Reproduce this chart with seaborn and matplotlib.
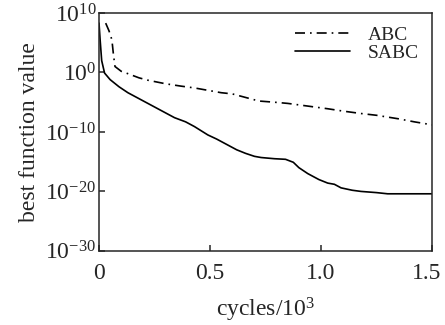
# Convergence curves of ABC vs SABC (log scale)
import seaborn as sns
import matplotlib.pyplot as plt
import matplotlib.transforms as mtransforms
import pandas as pd
import numpy as np

# cycles (x 10^3) and log10 of best function value
abc_cycles = [0.03, 0.045, 0.058, 0.065, 0.072, 0.10, 0.13, 0.18, 0.22, 0.30, 0.37,
              0.43, 0.49, 0.55, 0.60, 0.66, 0.72, 0.79, 0.85, 0.93, 1.03, 1.10,
              1.18, 1.25, 1.35, 1.42, 1.50]
abc_exp = [8.3, 7.0, 5.5, 3.0, 1.0, 0.2, -0.2, -0.9, -1.3, -1.9, -2.3,
           -2.6, -3.0, -3.4, -3.6, -4.2, -4.8, -5.0, -5.2, -5.6, -6.1, -6.5,
           -6.9, -7.2, -7.8, -8.3, -8.8]

sabc_cycles = [0.0, 0.005, 0.012, 0.025, 0.05, 0.09, 0.13, 0.18, 0.22, 0.28, 0.34,
               0.39, 0.43, 0.49, 0.53, 0.58, 0.62, 0.66, 0.70, 0.73, 0.79, 0.84,
               0.875, 0.90, 0.94, 0.99, 1.03, 1.06, 1.09, 1.14, 1.18, 1.25, 1.30, 1.50]
sabc_exp = [8.3, 5.5, 2.0, -0.1, -1.2, -2.4, -3.4, -4.4, -5.2, -6.4, -7.6,
            -8.3, -9.1, -10.5, -11.2, -12.2, -13.0, -13.6, -14.1, -14.3, -14.5, -14.6,
            -15.1, -16.0, -17.0, -18.0, -18.6, -18.8, -19.4, -19.8, -20.0, -20.2, -20.4, -20.4]

ytick_vals = [1e-30, 1e-20, 1e-10, 1e0, 1e10]
xtick_vals = [0, 0.5, 1.0, 1.5]
xtick_labels = ['0', '0.5', '1.0', '1.5']

df = pd.concat([
    pd.DataFrame({'cycles': abc_cycles, 'value': 10.0 ** np.array(abc_exp), 'alg': 'ABC'}),
    pd.DataFrame({'cycles': sabc_cycles, 'value': 10.0 ** np.array(sabc_exp), 'alg': 'SABC'}),
], ignore_index=True)

sns.set_style('ticks')
plt.rcParams['font.family'] = ['Liberation Serif', 'DejaVu Serif']
plt.rcParams['mathtext.fontset'] = 'custom'
plt.rcParams['mathtext.rm'] = 'Liberation Serif'
plt.rcParams['mathtext.it'] = 'Liberation Serif:italic'
plt.rcParams['mathtext.bf'] = 'Liberation Serif:bold'

fig = plt.figure(figsize=(4.45, 3.25), dpi=100)
ax = fig.add_axes([0.2225, 0.228, 0.7485, 0.732])

sns.lineplot(data=df, x='cycles', y='value', hue='alg', style='alg',
             palette={'ABC': 'black', 'SABC': 'black'},
             dashes={'ABC': (6, 3, 1, 3), 'SABC': ''},
             linewidth=1.2, ax=ax, sort=False, estimator=None)

ax.set_yscale('log')
ax.set_xlim(0, 1.5)
ax.set_ylim(1e-30, 1e10)
ax.set_yticks(ytick_vals)
ax.yaxis.set_minor_locator(plt.NullLocator())
ax.set_xticks(xtick_vals)
ax.set_xticklabels(xtick_labels)

ax.tick_params(direction='in', length=4, width=1.1, labelsize=17)
ax.tick_params(axis='x', pad=9)
ax.tick_params(axis='y', pad=2)
for s in ax.spines.values():
    s.set_linewidth(1.1)
    s.set_visible(True)

# nudge the last x label a little left so it stays inside the figure
last = ax.get_xticklabels()[-1]
last.set_transform(last.get_transform() +
                   mtransforms.ScaledTranslation(-5 / 100, 0, fig.dpi_scale_trans))

ax.set_xlabel('cycles/10$^3$', fontsize=17, labelpad=8)
ax.set_ylabel('best function value', fontsize=17, labelpad=4)

leg = ax.legend(loc='upper right', frameon=False, fontsize=14, handlelength=2.8,
                borderaxespad=0.3, labelspacing=0.0, handletextpad=0.9)

fig.savefig('out.png', dpi=100)
